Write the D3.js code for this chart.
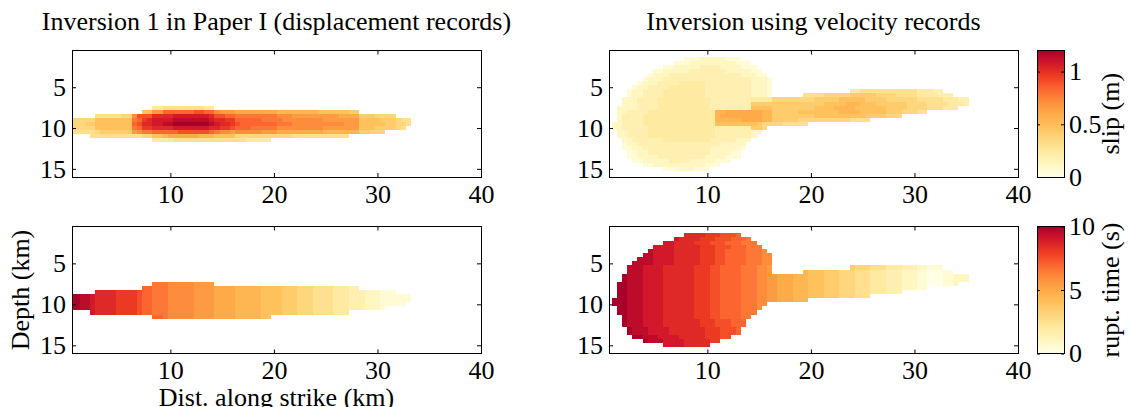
<!DOCTYPE html>
<html>
<head>
<meta charset="utf-8">
<script src="https://cdn.jsdelivr.net/npm/d3@7"></script>
<style>
  body { margin: 0; background: #fff; }
  text { font-family: "Liberation Serif", "Times New Roman", serif; font-size: 26px; fill: #000; }
  .axis line { stroke: #000; }
</style>
</head>
<body>
<svg width="1131" height="407"></svg>
<script>
const svg = d3.select("svg");

// fault grid is 0.5 km; one char per cell, "0".."k" = level 0..20, "." = no cell.
// spaces inside the strings are only there to make them readable
const levelCodes = "0123456789abcdefghijk";
const cellSize = 0.5;
const slipPerLevel = 0.06; // m
const timePerLevel = 0.5; // s

const titles = [
  "Inversion 1 in Paper I (displacement records)",
  "Inversion using velocity records",
];
const xTicks = [10, 20, 30, 40];
const yTicks = [5, 10, 15];
const slipTicks = [0, 0.5, 1];
const timeTicks = [0, 5, 10];
const xDomain = [0.5, 40];
const depthDomain = [0.5, 16];
const slipDomain = [0, 1.2];
const timeDomain = [0, 10];

// inversion 1 (displacement records)
const inv1Depth = [7.5, 8, 8.5, 9, 9.5, 10, 10.5, 11, 11.5];
const inv1Start = [8.5, 7.5, 3, 0.5, 0.5, 0.5, 0.5, 2.5, 8.5];
const inv1Slip = [
  "445555555544",
  "88 bb eeee eeffee cbbb aaaaaaaa99999999 88888877",
  "5555566 c f ff hhh hiiiiiiih ffee dddddddd cccbbbbbbbbbaaaa 7776666",
  "66666 8888888 de gh iii ijjjjjjji hhgg eeeeeddd dccccccccbbbbbbb 8888777 655",
  "66677 8888888 ef hh iij jkkkkkkkj ihhg feeeeeee dddccccccccccbbb 8888877 665",
  "66666 8888888 de gg hhh hiiiiiiih hggf eeeddddd cccccccccbbbbbbb 8887777 65",
  "55555 6777777 bc dd eee eeffffffe dccb cccccbbb aaaaaaaaa9999999 77666",
  "555555555566 889 aaaaaa 9998888 6666666666655555555555",
  "44445555555555555544444",
];
const inv1Time = [
  "ddd ccccc bbbb",
  "ee ddd ccccc bbbb aaaa 99999 8888 777 666 5555 444 33",
  "hhhh gggg f ee ddd ccccc bbbb aaaa 99999 8888 777 666 5555 444 333 222 111",
  "kk jj i hhhh gggg f ee ddd ccccc bbbb aaaa 99999 8888 777 666 5555 444 333 222 111111",
  "kk jj i hhhh gggg f ee ddd ccccc bbbb aaaa 99999 8888 777 666 5555 444 333 222 111111",
  "kk jj i hhhh gggg f ee ddd ccccc bbbb aaaa 99999 8888 777 666 5555 444 333 222 11111",
  "kk jj i hhhh gggg f ee ddd ccccc bbbb aaaa 99999 8888 777 666 5555 444 333 222 1",
  "i hhhh gggg f ee ddd ccccc bbbb aaaa 99999 8888 777 666 5555 444",
  "eed ccccc bbbb aaaa 99999 88",
];

// inversion 2 (velocity records)
const inv2Depth = [1.5, 2, 2.5, 3, 3.5, 4, 4.5, 5, 5.5, 6, 6.5, 7, 7.5, 8, 8.5,
  9, 9.5, 10, 10.5, 11, 11.5, 12, 12.5, 13, 13.5, 14, 14.5, 15];
const inv2Start = [8, 7, 6, 5, 4.5, 4, 3.5, 3, 2.5, 2.5, 2, 2, 1.5, 1.5, 1.5,
  1.5, 1, 1, 1.5, 1.5, 2, 2, 2, 2.5, 2.5, 3, 4, 6];
const inv2Slip = [
  "111 22222 111",
  "111 222222222 111",
  "11 22222 3333 2222 111",
  "11 22222 3333333 22222 11",
  "1 222 33333333333333 222 11",
  "1 222 33333333333333333 222 1",
  "1 222 3333 44444 333333333 222 1",
  "1 22 3333 4444444 333333333 222 1",
  "1 22 3333 44444444 333333333 222 1 ............... 44 55555555555 444 33",
  "1 22 3333 44444444 333333333 222 1 ...... 5555 6666677777 6666555 54444 333",
  "222 3333 4444444444 33333333 4444 6666666677 777888887777 66666655 55544 433",
  "222 3333 4444444444 33333333 7777 7777777777 888899988877 77776666 55554 443",
  "2222 3333 4444444444 33333333 8888 7777777788 889999888888 77776666 555444",
  "2233 3344 44444444444 99aaaaaaa99 7777788888 888999988888 77766655",
  "2333 3444 44444444444 9aaaaaaaa99 7777777788 888888887777 666",
  "2333 3444 44444444444 99999aaaa99 7777766666 666665555",
  "22333 3444 44444444444 888888887 666655555",
  "22333 3344 44444444444 3333333 776",
  "2233 3344 44444444444 333333322",
  "2233 3344 44444444444 33333332",
  "223 3333 34444444443 3333222",
  "122 3333 33333333333 322222",
  "112 2333 33333333332 222221",
  "11 22 333333333333 2222 11",
  "11 2222 333333333 2222 111",
  "11 22222 3333 22222 111",
  "112222222222111",
  "111222111",
];
const inv2Time = [
  "hhhh ggg fff e",
  "i hhhh ggg fff eee d",
  "ii hhhh ggg fff eee ddd",
  "iiii hhhhh ggg fff eee ddd",
  "j iiii hhhhh ggg ff eeee ddd c",
  "jj iiii hhhhh ggg ff eeee ddd cc",
  "jjj iiii hhhhh ggg ff eeee ddd cc",
  "jjjj iiii hhhhh ggg ff eeee ddd cc",
  "jjj iiii hhhhhh ggg ff eeee ddd cc b ............... 7666 555 444 333 22 111",
  "jjj iiii hhhhhh ggg ff eeee ddd cc b ...... 9 888 777 666 555 444 333 222 11 000 11",
  "k jjj iiii hhhhhh ggg ff eeee ddd cc bb aaa 999 888 777 666 555 444 333 222 11 000 11 222",
  "k jjj iiii hhhhhh ggg ff eeee ddd cc bb aaa 999 888 777 666 555 444 333 222 11 000 11 222",
  "kk jjj iiii hhhhhh ggg ff eeee ddd cc bb aaa 999 888 777 666 555 444 333 222 11 000 11 2",
  "kk jjj iiii hhhhhh ggg ff eeee ddd cc bb aaa 999 888 777 666 555 444 333 222 11",
  "kk jjj iiii hhhhhh ggg ff eeee ddd cc bb aaa 999 888 777 666 555 444 333",
  "kk jjj iiii hhhhhh ggg ff eeee ddd cc bb aaa 999 888 777 666 555",
  "kkk jjj iiii hhhhhh ggg ff eeee ddd cc bb aaa 999",
  "kkk jjj iiii hhhhhh ggg ff eeee ddd cc",
  "kk jjj iiii hhhhhh ggg ff eeee ddd c",
  "kk jjj iiii hhhhhh ggg ff eeee ddd",
  "k jjj iiii hhhhhh ggg ff eeee dd",
  "k jjj iiii hhhhhhh ggg fff eee",
  "k jjj iiii hhhhhhh ggg fff eee",
  "k jjj iiii hhhhhhh ggg fff e",
  "k jjj iiii hhhhhhh ggg fff e",
  "kk jjj iiii hhhhh ggg ff",
  "k jjj iiii hhhhh gg",
  "iiii hhhhh",
];

// layout
const cols = [
  { x0: 72, x1: 481 },
  { x0: 609, x1: 1018 },
];
const rows = [
  { y0: 50.5, y1: 177 },
  { y0: 226.5, y1: 353.5 },
];
const bar = { x0: 1037, x1: 1064 };

// colour map, bottom to top
const ramp = d3.piecewise(d3.interpolateRgb, [
  "#ffffe6", "#fff6c2", "#feeaa0", "#fed67e", "#fec15c", "#fdaa48",
  "#fd8c3c", "#fc6430", "#ec3a22", "#d2182a", "#a8002a",
]);
const slipColor = d3.scaleSequential(ramp).domain(slipDomain).clamp(true);
const timeColor = d3.scaleSequential(ramp).domain(timeDomain).clamp(true);

const toCells = (depths, starts, codes, perLevel) => {
  const cells = [];
  codes.forEach((s, i) => {
    s.replace(/ /g, "").split("").forEach((c, k) => {
      if (c === ".") return;
      cells.push({
        x: starts[i] + k * cellSize,
        d: depths[i],
        v: levelCodes.indexOf(c) * perLevel,
      });
    });
  });
  return cells;
};

const panels = [
  { c: 0, r: 0, cells: toCells(inv1Depth, inv1Start, inv1Slip, slipPerLevel), color: slipColor },
  { c: 1, r: 0, cells: toCells(inv2Depth, inv2Start, inv2Slip, slipPerLevel), color: slipColor },
  { c: 0, r: 1, cells: toCells(inv1Depth, inv1Start, inv1Time, timePerLevel), color: timeColor },
  { c: 1, r: 1, cells: toCells(inv2Depth, inv2Start, inv2Time, timePerLevel), color: timeColor },
];

const defs = svg.append("defs");

panels.forEach((p, i) => {
  const col = cols[p.c];
  const row = rows[p.r];
  const x = d3.scaleLinear().domain(xDomain).range([col.x0, col.x1]);
  const y = d3.scaleLinear().domain(depthDomain).range([row.y0, row.y1]);
  const w = col.x1 - col.x0;
  const h = row.y1 - row.y0;

  defs.append("clipPath").attr("id", `clip${i}`)
    .append("rect")
    .attr("x", col.x0).attr("y", row.y0)
    .attr("width", w).attr("height", h);

  const g = svg.append("g");

  g.append("g")
    .attr("clip-path", `url(#clip${i})`)
    .selectAll("rect")
    .data(p.cells)
    .join("rect")
    .attr("x", (d) => x(d.x - cellSize / 2))
    .attr("y", (d) => y(d.d - cellSize / 2))
    .attr("width", (d) => x(d.x + cellSize / 2) - x(d.x - cellSize / 2))
    .attr("height", (d) => y(d.d + cellSize / 2) - y(d.d - cellSize / 2))
    .attr("fill", (d) => p.color(d.v))
    .attr("shape-rendering", "crispEdges");

  // matlab style: ticks pointing inward on all four sides
  const xAxisG = g.append("g").attr("class", "axis")
    .attr("transform", `translate(0,${row.y1})`)
    .call(d3.axisBottom(x).tickValues(xTicks).tickSize(-4).tickPadding(7.5));
  xAxisG.select(".domain").remove();

  const topG = g.append("g").attr("class", "axis")
    .attr("transform", `translate(0,${row.y0})`)
    .call(d3.axisTop(x).tickValues(xTicks).tickSize(-4).tickFormat(() => ""));
  topG.select(".domain").remove();

  const yAxisG = g.append("g").attr("class", "axis")
    .attr("transform", `translate(${col.x0},0)`)
    .call(d3.axisLeft(y).tickValues(yTicks).tickSize(-4).tickPadding(6));
  yAxisG.select(".domain").remove();

  const rightG = g.append("g").attr("class", "axis")
    .attr("transform", `translate(${col.x1},0)`)
    .call(d3.axisRight(y).tickValues(yTicks).tickSize(-4).tickFormat(() => ""));
  rightG.select(".domain").remove();

  g.selectAll(".axis").attr("font-size", null).attr("font-family", null);

  g.append("rect")
    .attr("x", col.x0).attr("y", row.y0)
    .attr("width", w).attr("height", h)
    .attr("fill", "none").attr("stroke", "#000")
    .attr("shape-rendering", "crispEdges");
});

// titles
titles.forEach((t, i) => {
  svg.append("text")
    .attr("x", (cols[i].x0 + cols[i].x1) / 2)
    .attr("y", 30)
    .attr("text-anchor", "middle")
    .text(t);
});

// axis labels
svg.append("text")
  .attr("transform", `translate(29,${(rows[1].y0 + rows[1].y1) / 2}) rotate(-90)`)
  .attr("text-anchor", "middle")
  .text("Depth (km)");

svg.append("text")
  .attr("x", (cols[0].x0 + cols[0].x1) / 2)
  .attr("y", 406)
  .attr("text-anchor", "middle")
  .text("Dist. along strike (km)");

// colour bars
const bars = [
  { r: 0, color: slipColor, domain: slipDomain, ticks: slipTicks, label: "slip (m)" },
  { r: 1, color: timeColor, domain: timeDomain, ticks: timeTicks, label: "rupt. time (s)" },
];

bars.forEach((b, i) => {
  const row = rows[b.r];
  const s = d3.scaleLinear().domain(b.domain).range([row.y1, row.y0]);

  const grad = defs.append("linearGradient")
    .attr("id", `grad${i}`)
    .attr("x1", 0).attr("y1", 1).attr("x2", 0).attr("y2", 0);
  grad.selectAll("stop")
    .data(d3.range(0, 1.0001, 1 / 40))
    .join("stop")
    .attr("offset", (t) => t)
    .attr("stop-color", (t) => b.color(b.domain[0] + t * (b.domain[1] - b.domain[0])));

  const g = svg.append("g");
  g.append("rect")
    .attr("x", bar.x0).attr("y", row.y0)
    .attr("width", bar.x1 - bar.x0).attr("height", row.y1 - row.y0)
    .attr("fill", `url(#grad${i})`);

  const rAxis = g.append("g").attr("class", "axis")
    .attr("transform", `translate(${bar.x1},0)`)
    .call(d3.axisRight(s).tickValues(b.ticks).tickSize(-3).tickPadding(5).tickFormat((d) => String(d)));
  rAxis.select(".domain").remove();
  rAxis.attr("font-size", null).attr("font-family", null);

  const lAxis = g.append("g").attr("class", "axis")
    .attr("transform", `translate(${bar.x0},0)`)
    .call(d3.axisLeft(s).tickValues(b.ticks).tickSize(-3).tickFormat(() => ""));
  lAxis.select(".domain").remove();

  g.append("rect")
    .attr("x", bar.x0).attr("y", row.y0)
    .attr("width", bar.x1 - bar.x0).attr("height", row.y1 - row.y0)
    .attr("fill", "none").attr("stroke", "#000")
    .attr("shape-rendering", "crispEdges");

  g.append("text")
    .attr("transform", `translate(1119,${(row.y0 + row.y1) / 2}) rotate(-90)`)
    .attr("text-anchor", "middle")
    .text(b.label);
});
</script>
</body>
</html>
